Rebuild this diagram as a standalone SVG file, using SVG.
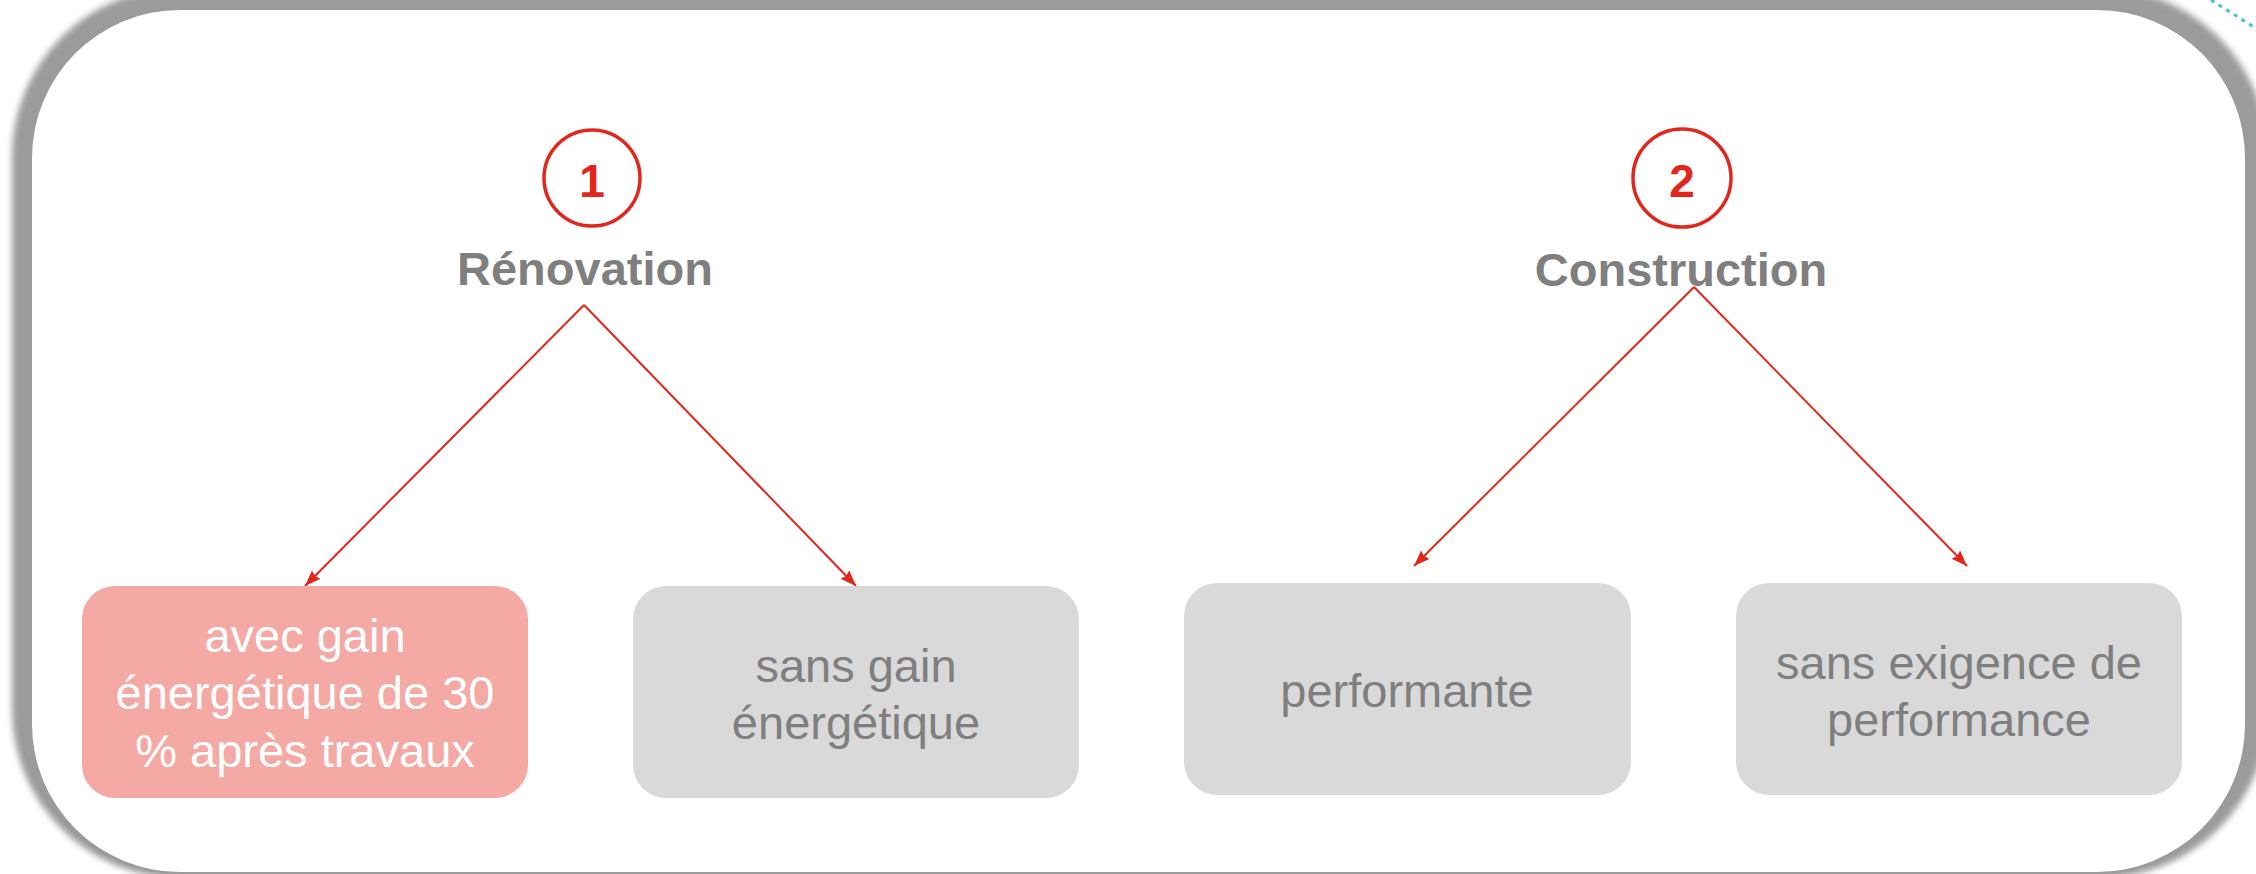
<svg xmlns="http://www.w3.org/2000/svg" width="2256" height="874" viewBox="0 0 2256 874">
  <defs>
    <filter id="soft" x="-5%" y="-5%" width="110%" height="110%">
      <feGaussianBlur stdDeviation="3"/>
    </filter>
    <marker id="arr" viewBox="0 0 16 12" refX="16" refY="6" markerWidth="16" markerHeight="12" markerUnits="userSpaceOnUse" orient="auto">
      <path d="M0,0 L16,6 L0,12 L2,6 Z" fill="#e3261c"/>
    </marker>
    <style>
      .conn { stroke: #e3261c; stroke-width: 2; fill: none; }
      .num { font-family: "Liberation Sans", Arial, sans-serif; font-weight: bold; font-size: 46px; fill: #e3261c; text-anchor: middle; }
      .ring { fill: none; stroke: #e3261c; stroke-width: 3.5; }
      .head { font-family: "Liberation Sans", Arial, sans-serif; font-weight: bold; font-size: 47px; fill: #7f7f7f; text-anchor: middle; }
      .box { fill: #d9d9d9; }
      .pink { fill: #f4a9a5; }
      .lbl { font-family: "Liberation Sans", Arial, sans-serif; font-size: 47px; fill: #7f7f7f; text-anchor: middle; }
      .lblw { font-family: "Liberation Sans", Arial, sans-serif; font-size: 47px; fill: #ffffff; text-anchor: middle; }
    </style>
  </defs>

  <rect width="2256" height="874" fill="#ffffff"/>

  <g id="frame">
    <rect x="12" y="-12" width="2256" height="890" rx="168" fill="#9b9b9b" filter="url(#soft)"/>
    <rect x="20" y="-4" width="2238" height="878" rx="160" fill="#9b9b9b"/>
    <rect x="32" y="10" width="2213" height="862" rx="148" fill="#ffffff"/>
    <line x1="2211" y1="0" x2="2260" y2="31" stroke="#4dbfd9" stroke-width="3" stroke-dasharray="4 5"/>
  </g>

  <g id="connectors">
    <line class="conn" x1="584" y1="305" x2="305" y2="586" marker-end="url(#arr)"/>
    <line class="conn" x1="584" y1="305" x2="856" y2="586" marker-end="url(#arr)"/>
    <line class="conn" x1="1694" y1="287" x2="1414" y2="566" marker-end="url(#arr)"/>
    <line class="conn" x1="1694" y1="287" x2="1967" y2="566" marker-end="url(#arr)"/>
  </g>

  <g id="renovation">
    <circle class="ring" cx="592" cy="178" r="48"/>
    <text class="num" x="592" y="197">1</text>
    <text class="head" x="585" y="285">Rénovation</text>
  </g>

  <g id="construction">
    <circle class="ring" cx="1682" cy="178" r="49"/>
    <text class="num" x="1682" y="197">2</text>
    <text class="head" x="1681" y="286">Construction</text>
  </g>

  <g id="avec-gain">
    <rect class="pink" x="82" y="586" width="446" height="212" rx="33"/>
    <text class="lblw" x="305" y="652">avec gain</text>
    <text class="lblw" x="305" y="709">énergétique de 30</text>
    <text class="lblw" x="305" y="767">% après travaux</text>
  </g>

  <g id="sans-gain">
    <rect class="box" x="633" y="586" width="446" height="212" rx="33"/>
    <text class="lbl" x="856" y="682">sans gain</text>
    <text class="lbl" x="856" y="739">énergétique</text>
  </g>

  <g id="performante">
    <rect class="box" x="1184" y="583" width="447" height="212" rx="33"/>
    <text class="lbl" x="1407" y="707">performante</text>
  </g>

  <g id="sans-exigence">
    <rect class="box" x="1736" y="583" width="446" height="212" rx="33"/>
    <text class="lbl" x="1959" y="679">sans exigence de</text>
    <text class="lbl" x="1959" y="736">performance</text>
  </g>
</svg>
